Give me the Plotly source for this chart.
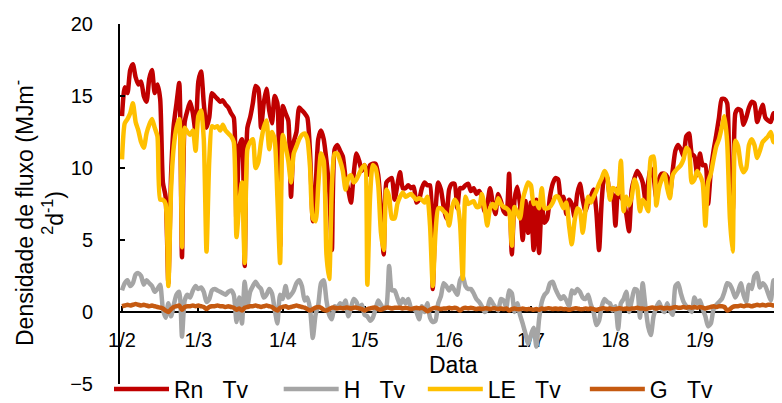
import plotly.graph_objects as go
import pandas as pd

# Daily values, 1 Feb - 30 Sep, MJ m-2 d-1
rn_feb = [13.6,15.6,15.2,16.8,17.2,16.3,15.8,16.0,15.0,14.6,16.2,16.8,15.2,15.8,14.8,9.0,8.0,2.0,9.5,13.0,14.5,15.9,3.8,13.2,14.0,14.6,13.8,12.5]
rn_mar = [16.0,16.7,14.5,12.8,13.5,15.2,15.0,14.8,14.6,14.7,14.4,14.2,13.8,13.5,6.0,11.5,12.0,3.2,12.8,13.5,14.5,15.7,15.5,12.8,14.5,15.5,14.0,13.1,15.0,14.5,4.5]
rn_apr = [14.3,13.8,13.3,8.0,11.8,12.5,14.2,14.0,13.8,13.5,11.0,6.3,8.5,12.0,12.6,12.0,10.5,8.5,4.3,11.3,11.6,11.2,10.8,9.3,8.5,7.6,9.6,11.0,10.5,9.8]
rn_may = [10.2,9.5,10.2,10.3,10.3,9.5,7.0,4.0,9.0,9.2,9.3,7.8,8.8,9.7,8.6,8.6,8.8,8.6,8.7,7.6,7.8,8.6,9.0,8.8,8.8,1.6,7.0,9.0,8.5,7.3,6.5]
rn_jun = [8.5,8.9,8.9,7.2,8.6,8.6,8.8,8.9,8.4,8.6,8.2,8.4,8.0,7.0,7.5,8.6,7.6,6.8,8.2,7.7,7.0,6.8,9.6,4.0,7.8,8.7,7.5,5.0,7.7,5.5]
rn_jul = [7.6,4.3,7.8,4.1,7.5,6.2,6.5,8.0,8.9,9.3,9.2,7.8,8.0,6.8,7.8,7.5,6.6,8.2,8.9,7.8,7.0,7.6,8.0,8.5,7.0,4.3,7.8,9.5,9.3,8.0,8.2]
rn_aug = [6.0,8.6,8.0,7.7,6.8,5.6,8.5,9.3,9.8,9.5,9.0,7.8,9.0,10.0,9.4,7.9,9.2,9.6,9.6,9.4,8.2,9.8,11.2,11.6,11.3,10.8,12.2,12.4,11.0,10.8,9.5]
rn_sep = [11.0,10.2,10.2,7.5,9.8,11.2,12.3,13.5,14.8,14.8,14.5,8.0,7.0,13.8,14.1,14.0,13.0,13.5,14.2,14.6,14.5,13.2,13.8,14.4,13.5,13.3,13.2,13.8,13.5,14.0]

h_feb = [1.5,2.0,2.2,1.8,2.0,2.6,2.7,2.5,1.9,2.2,2.0,1.8,1.4,1.6,1.9,0.2,-0.4,0.6,-0.3,0.5,1.2,1.4,-1.7,0.8,1.2,1.0,1.5,1.8]
h_mar = [1.6,1.7,1.4,0.7,0.9,1.5,1.6,1.5,1.4,1.3,1.2,1.4,1.5,1.2,-0.7,1.0,-0.8,2.1,0.4,1.4,1.8,2.1,1.8,1.6,1.0,1.2,1.6,1.3,0.2,-0.8,1.2]
h_apr = [0.9,1.8,1.0,1.2,1.5,2.0,2.2,1.8,0.8,1.0,0.2,-1.8,-0.2,0.5,2.0,2.2,0.8,-0.2,-0.5,0.4,0.3,0.6,0.4,0.8,-0.3,0.3,0.9,0.7,0.2,0.5]
h_may = [-0.2,-0.3,-0.6,-0.4,0.2,0.8,0.5,0.2,0.4,3.2,1.5,1.5,1.0,0.5,0.9,0.6,0.9,0.3,0.2,0.0,-0.5,0.4,0.0,0.6,-0.4,-0.7,-0.6,0.6,1.1,2.0,1.8]
h_jun = [1.5,1.8,1.5,1.2,2.2,2.5,1.8,1.6,1.6,1.3,0.9,0.7,0.4,0.0,0.2,0.9,0.6,0.3,0.1,0.9,0.8,0.3,1.5,1.3,0.0,0.6,-0.2,-0.8,-1.5,-2.2]
h_jul = [-1.6,-1.1,-2.4,-0.5,0.7,1.2,1.4,2.0,2.1,1.6,1.2,0.9,1.1,0.8,0.4,1.5,1.3,1.6,1.4,1.0,0.9,1.2,0.5,0.0,-0.9,-0.6,0.4,0.9,0.7,0.6,0.1]
h_aug = [0.4,-1.2,0.6,0.9,1.4,0.0,0.8,1.6,1.5,-0.4,2.0,0.4,-1.0,-1.6,-0.3,0.3,0.7,0.2,0.0,0.6,0.1,-0.2,1.8,2.0,1.3,0.7,0.4,0.2,0.0,1.0,0.6]
h_sep = [0.8,0.2,-0.3,-1.0,-0.8,0.2,0.5,0.7,0.9,1.4,2.0,1.9,1.5,1.0,1.4,2.0,1.2,0.7,1.9,1.6,2.5,2.7,1.7,2.0,1.8,1.3,0.8,2.2,1.6,1.7]

le_feb = [10.6,13.1,13.4,13.8,14.5,13.2,12.6,11.8,11.4,12.4,13.0,13.4,12.8,12.2,7.8,7.8,7.5,1.8,8.5,11.5,12.8,13.4,4.5,12.8,12.5,12.3,12.6,11.2]
le_mar = [13.6,14.0,12.0,4.2,10.5,12.9,12.8,12.9,12.6,13.0,12.6,12.4,12.2,11.8,5.2,7.5,9.0,3.4,11.3,11.8,12.0,10.0,10.4,11.8,12.8,13.3,11.3,12.5,12.0,8.0,3.4]
le_apr = [12.3,11.5,10.5,9.0,11.0,11.5,12.0,12.3,12.4,12.0,10.0,6.5,6.3,8.8,11.0,10.5,4.0,2.3,8.8,11.0,11.0,10.5,9.8,8.5,9.3,9.5,9.0,9.2,9.6,10.0]
le_may = [10.2,1.9,8.0,10.2,10.0,8.8,5.5,4.3,8.5,8.0,6.5,6.5,7.5,8.0,8.3,8.0,8.1,8.2,8.0,7.8,7.9,7.8,7.6,8.0,6.0,1.8,5.5,7.2,7.2,7.0,6.8]
le_jun = [6.0,7.2,7.8,7.5,6.2,2.3,8.0,7.5,7.6,7.7,7.3,7.3,8.2,7.3,6.0,7.2,7.5,7.2,7.9,7.5,7.3,7.2,7.0,4.6,7.3,6.9,6.5,7.8,8.5,9.0]
le_jul = [8.8,7.5,7.6,7.2,8.6,7.2,7.2,7.3,7.6,8.0,8.0,7.6,7.2,7.6,6.0,4.7,6.3,7.2,7.0,5.5,7.0,8.0,7.6,8.0,8.4,8.9,9.3,9.8,9.4,7.8,8.6]
le_aug = [8.5,8.2,10.5,7.0,8.0,7.4,8.0,9.2,8.7,7.0,7.8,7.5,7.0,10.7,10.8,7.4,8.6,9.2,9.6,8.6,7.9,9.5,9.8,10.0,10.2,10.6,11.4,11.2,9.0,9.2,9.8]
le_sep = [9.5,9.0,6.0,9.0,9.6,10.6,11.5,12.0,12.8,13.6,11.8,6.5,4.2,11.9,11.5,10.2,9.7,10.0,11.6,12.0,11.6,10.7,11.2,11.8,12.0,12.2,12.5,11.8,11.8,11.6]

g_feb = [0.4,0.45,0.5,0.45,0.5,0.55,0.5,0.45,0.5,0.45,0.4,0.45,0.4,0.35,0.3,0.25,0.1,0.0,0.2,0.35,0.4,0.45,0.15,0.35,0.4,0.4,0.45,0.4]
g_mar = [0.45,0.4,0.35,0.2,0.35,0.4,0.4,0.45,0.4,0.4,0.35,0.4,0.35,0.3,0.15,0.25,0.1,0.3,0.35,0.4,0.4,0.45,0.4,0.35,0.4,0.45,0.4,0.35,0.2,0.1,0.3]
g_apr = [0.35,0.4,0.3,0.35,0.4,0.45,0.4,0.35,0.3,0.2,0.1,0.2,0.3,0.35,0.3,0.15,0.1,0.2,0.3,0.3,0.25,0.3,0.25,0.3,0.3,0.25,0.3,0.3,0.25,0.2]
g_may = [0.1,0.2,0.25,0.3,0.3,0.2,0.15,0.25,0.3,0.3,0.25,0.3,0.3,0.3,0.25,0.3,0.25,0.2,0.25,0.3,0.25,0.3,0.2,0.05,0.15,0.25,0.3,0.25,0.2,0.25,0.25]
g_jun = [0.3,0.25,0.3,0.25,0.1,0.25,0.3,0.25,0.3,0.25,0.2,0.25,0.2,0.25,0.25,0.2,0.25,0.25,0.2,0.25,0.2,0.25,0.1,0.2,0.25,0.2,0.2,0.25,0.2,0.2]
g_jul = [0.2,0.15,0.2,0.15,0.25,0.2,0.25,0.25,0.2,0.25,0.2,0.25,0.2,0.2,0.15,0.2,0.25,0.25,0.2,0.2,0.25,0.2,0.25,0.2,0.15,0.2,0.25,0.25,0.2,0.25,0.2]
g_aug = [0.2,0.25,0.25,0.2,0.25,0.2,0.25,0.25,0.3,0.25,0.25,0.2,0.25,0.3,0.3,0.25,0.3,0.3,0.25,0.3,0.25,0.3,0.35,0.3,0.3,0.35,0.3,0.35,0.3,0.35,0.3]
g_sep = [0.35,0.3,0.25,0.3,0.35,0.4,0.35,0.4,0.4,0.35,0.1,0.2,0.35,0.4,0.4,0.45,0.4,0.45,0.45,0.4,0.45,0.5,0.45,0.5,0.45,0.5,0.5,0.45,0.5,0.5]

rn = rn_feb + rn_mar + rn_apr + rn_may + rn_jun + rn_jul + rn_aug + rn_sep
h = h_feb + h_mar + h_apr + h_may + h_jun + h_jul + h_aug + h_sep
le = le_feb + le_mar + le_apr + le_may + le_jun + le_jul + le_aug + le_sep
g = g_feb + g_mar + g_apr + g_may + g_jun + g_jul + g_aug + g_sep

tick_dates = ["2015-02-01", "2015-03-01", "2015-04-01", "2015-05-01",
              "2015-06-01", "2015-07-01", "2015-08-01", "2015-09-01"]
tick_labels = ["1/2", "1/3", "1/4", "1/5", "1/6", "1/7", "1/8", "1/9"]

NB = "\u00a0"
series_names = ["Rn" + NB * 3 + "Tv" + NB * 4, "H" + NB * 3 + "Tv" + NB * 2,
                "LE" + NB * 3 + "Tv" + NB * 3, "G" + NB * 3 + "Tv"]
series_colors = ["#C00000", "#A5A5A5", "#FFC000", "#C55A11"]

dates = pd.date_range("2015-02-01", periods=len(rn), freq="D")

FONT = "Liberation Sans, Arial, sans-serif"
fig = go.Figure()
for vals, name, col in zip([rn, h, le, g], series_names, series_colors):
    fig.add_trace(go.Scatter(x=dates, y=vals, mode="lines", name=name,
                             line=dict(color=col, width=4.5, shape="spline", smoothing=0.6)))

# page body has an 8px margin: lay the figure out in (screen - 8) coordinates
OFF = 8
W, H = 782 - OFF, 403 - OFF
ml = 120 - OFF
mt = 24 - OFF
plot_bottom = 384 - OFF
mr = 0
mb = H - plot_bottom
pw = W - ml - mr
ph = plot_bottom - mt
px_per_day = 2.726
x0 = pd.Timestamp("2015-02-01") - pd.Timedelta(days=2 / px_per_day)
x1 = x0 + pd.Timedelta(days=pw / px_per_day)


def px(xs):
    return (xs - OFF - ml) / pw


def py(ys):
    return (plot_bottom - (ys - OFF)) / ph


fig.update_layout(
    width=W, height=H,
    margin=dict(l=ml, r=mr, t=mt, b=mb, autoexpand=False),
    paper_bgcolor="white", plot_bgcolor="white",
    font=dict(family=FONT, color="black", size=20),
    showlegend=True,
    legend=dict(orientation="h", x=px(109), xanchor="left",
                y=py(389), yanchor="middle",
                font=dict(size=23), itemwidth=55, bgcolor="rgba(0,0,0,0)"),
    xaxis=dict(type="date", range=[x0, x1], tickmode="array",
               tickvals=tick_dates, ticktext=tick_labels,
               showgrid=False, zeroline=False, showline=True,
               linecolor="black", linewidth=2, ticks="inside", ticklen=5,
               tickcolor="black", tickwidth=1.5,
               anchor="free", position=0.2, layer="below traces",
               tickfont=dict(size=20), ticklabelstandoff=10),
    yaxis=dict(range=[-5, 20], dtick=5, tick0=0, showgrid=False, zeroline=False,
               showline=True, linecolor="black", linewidth=2,
               ticks="inside", ticklen=5, tickcolor="black", tickwidth=1.5,
               tickfont=dict(size=20), ticklabelstandoff=21),
)

fig.add_annotation(text="Data", xref="paper", yref="paper",
                   x=px(453), y=py(365),
                   xanchor="center", yanchor="middle", showarrow=False,
                   font=dict(size=23))
fig.add_annotation(text="Densidade de fluxo (MJm<sup>-</sup><br><sup>2</sup>d<sup>-1</sup>)",
                   xref="paper", yref="paper",
                   x=px(38), y=py(213),
                   xanchor="center", yanchor="middle", textangle=-90,
                   showarrow=False, font=dict(size=23))

fig.write_html("out.html")
